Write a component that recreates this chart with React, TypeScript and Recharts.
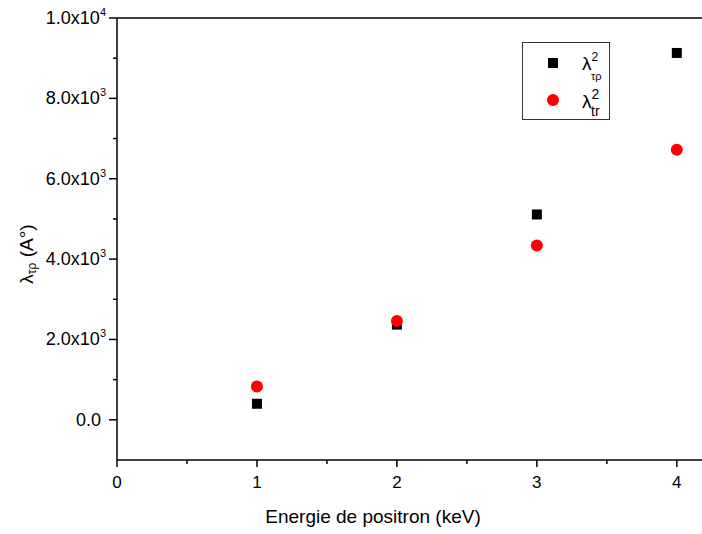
import { ScatterChart, Scatter, XAxis, YAxis, ReferenceLine, Label } from 'recharts'

const energies = [1, 2, 3, 4]
const lambdaTauRho = [400, 2370, 5110, 9130]
const lambdaTr = [830, 2460, 4340, 6720]
const xTicks = [0, 0.5, 1, 1.5, 2, 2.5, 3, 3.5, 4]
const yTicks = [0, 1000, 2000, 3000, 4000, 5000, 6000, 7000, 8000, 9000, 10000]

const FONT = '"Liberation Sans", Arial, sans-serif'

const tauRhoData = energies.map((x, i) => ({ x, y: lambdaTauRho[i] }))
const trData = energies.map((x, i) => ({ x, y: lambdaTr[i] }))

function SquareDot(props: any) {
  const { cx, cy } = props
  return <rect x={cx - 5} y={cy - 5} width={10} height={10} fill='#000' />
}

function RedDot(props: any) {
  const { cx, cy } = props
  return <circle cx={cx} cy={cy} r={6} fill='#ff0000' />
}

function XTick(props: any) {
  const { x, y, payload } = props
  const major = Number.isInteger(payload.value)
  return (
    <g>
      <line x1={x} x2={x} y1={y} y2={y + (major ? 7 : 4)} stroke='#000' strokeWidth={1.5} />
      {major && (
        <text x={x} y={y + 28} textAnchor='middle' fontSize={17} fontFamily={FONT} fill='#000'>
          {payload.value}
        </text>
      )}
    </g>
  )
}

function YTick(props: any) {
  const { x, y, payload } = props
  const v = payload.value
  const major = v % 2000 === 0
  let label = null
  if (major) {
    if (v === 0) {
      label = <text x={x - 16} y={y + 6} textAnchor='end' fontSize={18} fontFamily={FONT} fill='#000'>0.0</text>
    } else {
      const exp = Math.floor(Math.log10(v))
      const mant = (v / Math.pow(10, exp)).toFixed(1)
      label = (
        <text x={x - 11} y={y + 6} textAnchor='end' fontSize={18} fontFamily={FONT} fill='#000'>
          {mant}x10<tspan dy={-8} fontSize={11}>{exp}</tspan>
        </text>
      )
    }
  }
  return (
    <g>
      <line x1={x - (major ? 8 : 4)} x2={x} y1={y} y2={y} stroke='#000' strokeWidth={1.5} />
      {label}
    </g>
  )
}

function LegendBox() {
  return (
    <div style={{ position: 'absolute', left: 522, top: 42, width: 88, height: 78, border: '1px solid #333', boxSizing: 'border-box', fontFamily: FONT, background: '#fff' }}>
      <div style={{ position: 'absolute', left: 25, top: 15, width: 10, height: 10, background: '#000' }} />
      <div style={{ position: 'absolute', left: 59, top: 6, fontSize: 19, lineHeight: '20px' }}>
        λ<sup style={{ fontSize: 12, position: 'relative', top: -2 }}>2</sup>
        <span style={{ position: 'absolute', left: 9, top: 17, fontSize: 11 }}>τρ</span>
      </div>
      <div style={{ position: 'absolute', left: 24, top: 51, width: 12, height: 12, borderRadius: 6, background: '#ff0000' }} />
      <div style={{ position: 'absolute', left: 59, top: 43, fontSize: 19, lineHeight: '20px' }}>
        λ<sup style={{ fontSize: 14, position: 'relative', top: -2 }}>2</sup>
        <span style={{ position: 'absolute', left: 9, top: 15, fontSize: 14 }}>tr</span>
      </div>
    </div>
  )
}

export default function App() {
  return (
    <div style={{ position: 'absolute', left: 0, top: 0, width: 702, height: 534, background: '#fff' }}>
      <ScatterChart width={702} height={534} margin={{ top: 18, right: 0, bottom: 0, left: 0 }}>
        <XAxis
          type='number'
          dataKey='x'
          domain={[0, 4.18]}
          allowDataOverflow
          ticks={xTicks}
          interval={0}
          height={74}
          tickSize={0}
          tickMargin={0}
          tickLine={false}
          tick={<XTick />}
          axisLine={{ stroke: '#000', strokeWidth: 1.5 }}
        >
          <Label
            content={(p: any) => (
              <text x={p.viewBox.x + 256} y={p.viewBox.y + 63} textAnchor='middle' fontSize={19} fontFamily={FONT} fill='#000'>
                Energie de positron (keV)
              </text>
            )}
          />
        </XAxis>
        <YAxis
          type='number'
          dataKey='y'
          domain={[-1000, 10000]}
          allowDataOverflow
          ticks={yTicks}
          interval={0}
          width={117}
          tickSize={0}
          tickMargin={0}
          tickLine={false}
          tick={<YTick />}
          axisLine={{ stroke: '#000', strokeWidth: 1.5 }}
        >
          <Label
            content={(p: any) => {
              const cx = 26
              const cy = p.viewBox.y + 236
              return (
                <text x={cx} y={cy} transform={`rotate(-90 ${cx} ${cy})`} textAnchor='middle' dominantBaseline='central' fontSize={19} fontFamily={FONT} fill='#000'>
                  λ<tspan dy={6} fontSize={12}>τρ</tspan><tspan dy={-6}> (A°)</tspan>
                </text>
              )
            }}
          />
        </YAxis>
        <ReferenceLine y={10000} stroke='#000' strokeWidth={1.5} />
        <Scatter name='tauRho' data={tauRhoData} fill='#000' shape={SquareDot} isAnimationActive={false} />
        <Scatter name='tr' data={trData} fill='#ff0000' shape={RedDot} isAnimationActive={false} />
      </ScatterChart>
      <LegendBox />
    </div>
  )
}
